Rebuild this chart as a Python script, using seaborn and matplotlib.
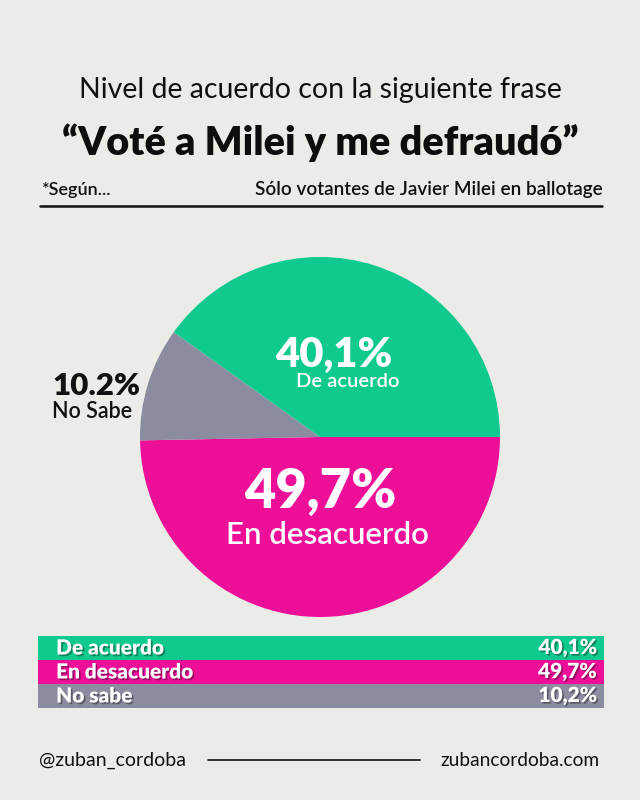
import matplotlib
matplotlib.use("Agg")
import matplotlib.pyplot as plt
import matplotlib.patheffects as pe
import seaborn as sns

# data
pie_labels = ["En desacuerdo", "No Sabe", "De acuerdo"]
pie_values = [49.7, 10.2, 40.1]
pie_colors = ["#EE0F99", "#8B8C9F", "#10C98E"]

table_labels = ["De acuerdo", "En desacuerdo", "No sabe"]
table_values = ["40,1%", "49,7%", "10,2%"]
table_colors = ["#10C98E", "#EE0F99", "#8B8C9F"]

bg = "#EBEBE7"
sns.set_theme(style="white")
plt.rcParams["font.family"] = ["Lato", "DejaVu Sans"]

fig = plt.figure(figsize=(6.4, 8.0), dpi=100, facecolor=bg)

W, H = 640, 800
def fx(x):
    return x / W
def fy(y):
    return 1 - y / H

# header
fig.text(fx(320), fy(90), "Nivel de acuerdo con la siguiente frase", ha="center",
         va="center", fontsize=20.5, color="#111111")
fig.text(fx(320), fy(143), "“Voté a Milei y me defraudó”", ha="center", va="center",
         fontsize=28.5, fontweight="heavy", color="#0d0d0d")
fig.text(fx(42), fy(190), "*Según...", ha="left", va="center", fontsize=13,
         fontweight="semibold", color="#111111")
fig.text(fx(603), fy(190), "Sólo votantes de Javier Milei en ballotage", ha="right",
         va="center", fontsize=13.6, fontweight="semibold", color="#111111")
fig.add_artist(plt.Line2D([fx(40), fx(602)], [fy(206), fy(206)], color="#111111", lw=1.8))

# pie
ax = fig.add_axes([fx(140), fy(617), 360 / W, 360 / H])
ax.set_facecolor("none")
ax.pie(pie_values, colors=pie_colors, startangle=0, counterclock=False,
       wedgeprops=dict(linewidth=0))
ax.set_xlim(-1, 1)
ax.set_ylim(-1, 1)
ax.set_aspect("equal")
ax.axis("off")

fig.text(fx(334), fy(355), "40,1%", ha="center", va="center", fontsize=30,
         fontweight="heavy", color="white")
fig.text(fx(348), fy(381), "De acuerdo", ha="center", va="center", fontsize=14.5,
         fontweight="semibold", color="white")
fig.text(fx(320), fy(492), "49,7%", ha="center", va="center", fontsize=39,
         fontweight="heavy", color="white")
fig.text(fx(327), fy(535), "En desacuerdo", ha="center", va="center", fontsize=22.5,
         fontweight="semibold", color="white")
fig.text(fx(52), fy(386), "10.2%", ha="left", va="center", fontsize=22.5,
         fontweight="heavy", color="#111111")
fig.text(fx(52), fy(411), "No Sabe", ha="left", va="center", fontsize=15.5,
         fontweight="semibold", color="#111111")

# table
tax = fig.add_axes([fx(38), fy(708), (604 - 38) / W, 72 / H])
tax.set_facecolor("none")
n = len(table_labels)
tax.barh(range(n), [1] * n, height=1.0, left=0, color=table_colors, linewidth=0)
tax.set_xlim(0, 1)
tax.set_ylim(n - 0.5, -0.5)
tax.axis("off")
shadow = [pe.withSimplePatchShadow(offset=(1.2, -1.2), shadow_rgbFace="black", alpha=0.35)]
for i, (lab, val) in enumerate(zip(table_labels, table_values)):
    tax.text(0.032, i, lab, ha="left", va="center", fontsize=15, fontweight="heavy",
             color="white", path_effects=shadow)
    tax.text(0.988, i, val, ha="right", va="center", fontsize=15, fontweight="heavy",
             color="white", path_effects=shadow)

# footer
fig.text(fx(39), fy(760), "@zuban_cordoba", ha="left", va="center", fontsize=14,
         color="#111111")
fig.text(fx(600), fy(760), "zubancordoba.com", ha="right", va="center", fontsize=13.8,
         color="#111111")
fig.add_artist(plt.Line2D([fx(208), fx(420)], [fy(760), fy(760)], color="#222222", lw=1.3))

fig.savefig("out.png", dpi=100, facecolor=bg)
